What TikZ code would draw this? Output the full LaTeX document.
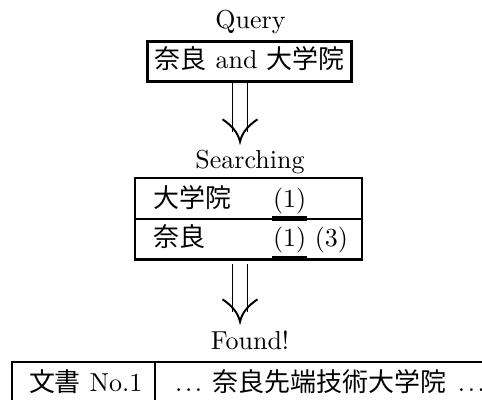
\documentclass[tikz,border=0pt]{standalone}
\usepackage{fontspec}
\newfontfamily\jp{Noto Sans CJK JP}
\usetikzlibrary{calc}
\newcommand\mydots{.\kern1pt.\kern1pt.}
\newcommand\dnarrow[2]{%
  \draw[shaft] ($(#1)+(-7.5,0)$) -- ($(#2)+(-7.5,-10)$);
  \draw[shaft] ($(#1)+(7.5,0)$) -- ($(#2)+(7.5,-10)$);
  \draw[shaft] ($(#2)+(-17.5,-22.4)$) .. controls ($(#2)+(-8,-16)$) and ($(#2)+(-2,-9)$) .. (#2)
     .. controls ($(#2)+(2,-9)$) and ($(#2)+(8,-16)$) .. ($(#2)+(17.5,-22.4)$);
}
\begin{document}
\begin{tikzpicture}[x=0.385pt,y=-0.385pt,
  lbl/.style={inner sep=0pt, anchor=base},
  txt/.style={inner sep=0pt, anchor=base west},
  frame/.style={draw, line width=1pt, inner sep=0pt},
  rowbox/.style={draw, line width=0.8pt, inner sep=0pt},
  rule/.style={line width=0.85pt},
  shaft/.style={line width=0.75pt},
  ul/.style={line width=1.9pt}]
\path[use as bounding box, clip] (0,0) rectangle (482,399);
% Query
\node[lbl] (qlabel) at (250.5,28.5) {Query};
\node[frame, minimum width={204.4*0.385pt}, minimum height={40*0.385pt}] (query) at (249.5,61.7) {};
\node[lbl] (qtext) at (249.5,68.3) {{\jp 奈良} and {\jp 大学院}};
% arrow 1
\coordinate (a1s) at (240,83.3);
\coordinate (a1e) at (240,141.7);
\dnarrow{a1s}{a1e}
% Searching
\node[lbl] (slabel) at (250,168.3) {Searching};
\node[rowbox, minimum width={227*0.385pt}, minimum height={41.3*0.385pt}] (row1) at (248.5,198.65) {};
\node[rowbox, minimum width={227*0.385pt}, minimum height={40.2*0.385pt}] (row2) at (248.5,239.4) {};
\node[txt] (r1a) at (153.3,207.6) {\jp 大学院};
\node[txt] (r1b) at (272.5,207.6) {(1)};
\node[txt] (r2a) at (153.3,246.9) {\jp 奈良};
\node[txt] (r2b) at (272.5,246.9) {(1) (3)};
\draw[ul] (272.3,218.2) -- (306.7,218.2);
\draw[ul] (272.3,258) -- (306.7,258);
% arrow 2
\coordinate (a2s) at (240,264);
\coordinate (a2e) at (240,321.7);
\dnarrow{a2s}{a2e}
% Found
\node[lbl] (flabel) at (250,349.5) {Found!};
\draw[rule] (12.3,405) -- (12.3,361.7) -- (490,361.7);
\draw[rule] (155,361.7) -- (155,405);
\node[txt] (doc) at (28.5,391) {{\jp 文書} No.1};
\node[txt] (snip) at (174.7,391) {\mydots\hspace{4pt}{\jp 奈良先端技術大学院}\hspace{4.5pt}\mydots};
\end{tikzpicture}
\end{document}
